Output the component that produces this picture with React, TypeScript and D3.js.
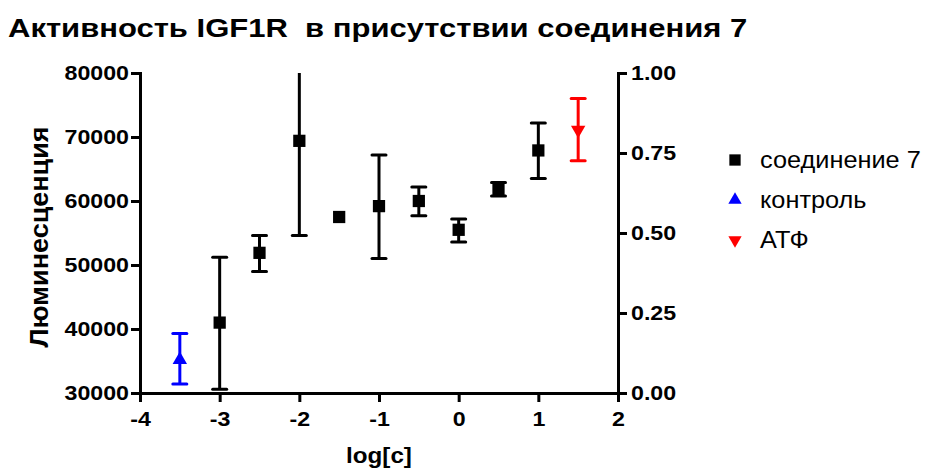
import React, { useEffect, useRef } from 'react';
import * as d3 from 'd3';

// compound 7 (log concentration -> luminescence, mean with error range)
const logC = [-3, -2.5, -2, -1.5, -1, -0.5, 0, 0.5, 1];
const compoundMean = [41000, 51900, 69400, 57500, 59200, 60000, 55500, 61800, 67900];
const compoundLow = [30600, 49000, 54600, 57300, 51000, 57700, 53600, 60800, 63500];
const compoundHigh = [51200, 54600, 84000, 57700, 67200, 62200, 57200, 62900, 72200];

// controls
const controlX = [-3.5];
const controlMean = [35200];
const controlLow = [31400];
const controlHigh = [39300];

const atpX = [1.5];
const atpMean = [71100];
const atpLow = [66300];
const atpHigh = [76000];

const xTicks = [-4, -3, -2, -1, 0, 1, 2];
const yTicks = [30000, 40000, 50000, 60000, 70000, 80000];
const y2Ticks = [0, 0.25, 0.5, 0.75, 1];

const legendLabels = ['соединение 7', 'контроль', 'АТФ'];
const colors = ['#000000', '#0000ff', '#ff0000'];

// widen text horizontally, the source picture is a bit stretched
function stretch(sel: any, k: number) {
  sel.each(function (this: SVGTextElement) {
    const len = this.getComputedTextLength();
    d3.select(this).attr('textLength', len * k).attr('lengthAdjust', 'spacingAndGlyphs');
  });
}

export default function App() {
  const svgRef = useRef<SVGSVGElement>(null);

  useEffect(() => {
    const width = 928;
    const height = 470;
    const margin = { top: 73, right: 310, bottom: 77, left: 140 };
    const font = '"Liberation Sans", Arial, sans-serif';

    const svg = d3.select(svgRef.current);
    svg.selectAll('*').remove();
    svg.attr('width', width).attr('height', height);

    const x = d3.scaleLinear().domain([-4, 2]).range([margin.left, width - margin.right]);
    const y = d3.scaleLinear().domain([30000, 80000]).range([height - margin.bottom, margin.top]);
    const y2 = d3.scaleLinear().domain([0, 1]).range([height - margin.bottom, margin.top]);

    // title
    svg.append('text')
      .attr('x', 8)
      .attr('y', 37)
      .attr('font-family', font)
      .attr('font-weight', 'bold')
      .attr('font-size', 25)
      .style('white-space', 'pre')
      .text('Активность IGF1R  в присутствии соединения 7')
      .call(stretch, 1.24);

    const styleAxis = (g: any) => {
      g.select('.domain').attr('stroke-width', 3).attr('stroke-linecap', 'square');
      g.selectAll('.tick line').attr('stroke-width', 3);
      g.selectAll('.tick text')
        .attr('font-family', font)
        .attr('font-weight', 'bold')
        .attr('font-size', 20)
        .attr('fill', '#000')
        .call(stretch, 1.16);
    };

    svg.append('g')
      .attr('transform', `translate(0,${height - margin.bottom})`)
      .call(d3.axisBottom(x).tickValues(xTicks).tickSize(9).tickSizeOuter(0).tickPadding(10).tickFormat(d => String(d)))
      .call(styleAxis);

    svg.append('g')
      .attr('transform', `translate(${margin.left},0)`)
      .call(d3.axisLeft(y).tickValues(yTicks).tickSize(9).tickSizeOuter(0).tickPadding(2).tickFormat(d => String(d)))
      .call(styleAxis);

    svg.append('g')
      .attr('transform', `translate(${width - margin.right},0)`)
      .call(d3.axisRight(y2).tickValues(y2Ticks).tickSize(9).tickSizeOuter(0).tickPadding(4).tickFormat(d3.format('.2f')))
      .call(styleAxis);

    // axis titles
    svg.append('text')
      .attr('x', (margin.left + width - margin.right) / 2)
      .attr('y', 463)
      .attr('text-anchor', 'middle')
      .attr('font-family', font)
      .attr('font-weight', 'bold')
      .attr('font-size', 22)
      .text('log[c]')
      .call(stretch, 1.1);

    svg.append('text')
      .attr('transform', `translate(48,237) rotate(-90)`)
      .attr('text-anchor', 'middle')
      .attr('font-family', font)
      .attr('font-weight', 'bold')
      .attr('font-size', 25)
      .text('Люминесценция')
      .call(stretch, 1.08);

    // error bars + markers
    const series = [
      { xs: logC, mean: compoundMean, low: compoundLow, high: compoundHigh, color: colors[0], symbol: d3.symbolSquare, size: 150, rot: 0 },
      { xs: controlX, mean: controlMean, low: controlLow, high: controlHigh, color: colors[1], symbol: d3.symbolTriangle, size: 90, rot: 0 },
      { xs: atpX, mean: atpMean, low: atpLow, high: atpHigh, color: colors[2], symbol: d3.symbolTriangle, size: 90, rot: 180 },
    ];

    const [yMin, yMax] = y.domain();
    const capW = 7;

    series.forEach(s => {
      const g = svg.append('g');
      s.xs.forEach((xv, i) => {
        const cx = x(xv);
        const cy = y(s.mean[i]);
        const top = Math.min(s.high[i], yMax);
        const bot = Math.max(s.low[i], yMin);
        g.append('line')
          .attr('x1', cx).attr('x2', cx)
          .attr('y1', y(top)).attr('y2', y(bot))
          .attr('stroke', s.color).attr('stroke-width', 3);
        [s.high[i], s.low[i]].forEach(v => {
          // bars shorter than the symbol stay hidden, bars past the axis lose their cap
          if (v > yMax || v < yMin || Math.abs(y(v) - cy) < 4) return;
          g.append('line')
            .attr('x1', cx - capW).attr('x2', cx + capW)
            .attr('y1', y(v)).attr('y2', y(v))
            .attr('stroke', s.color).attr('stroke-width', 3)
            .attr('stroke-linecap', 'round');
        });
        g.append('path')
          .attr('d', d3.symbol().type(s.symbol).size(s.size)())
          .attr('transform', `translate(${cx},${cy}) rotate(${s.rot})`)
          .attr('fill', s.color);
      });
    });

    // legend
    const legend = svg.append('g');
    series.forEach((s, i) => {
      const ly = 160 + i * 40;
      legend.append('path')
        .attr('d', d3.symbol().type(s.symbol).size(s.size * 0.85)())
        .attr('transform', `translate(735,${ly}) rotate(${s.rot})`)
        .attr('fill', s.color);
      legend.append('text')
        .attr('x', 760)
        .attr('y', ly)
        .attr('dy', '0.35em')
        .attr('font-family', font)
        .attr('font-size', 23)
        .text(legendLabels[i])
        .call(stretch, 1.1);
    });
  }, []);

  return <svg ref={svgRef} style={{ position: 'absolute', left: 0, top: 0 }}></svg>;
}
